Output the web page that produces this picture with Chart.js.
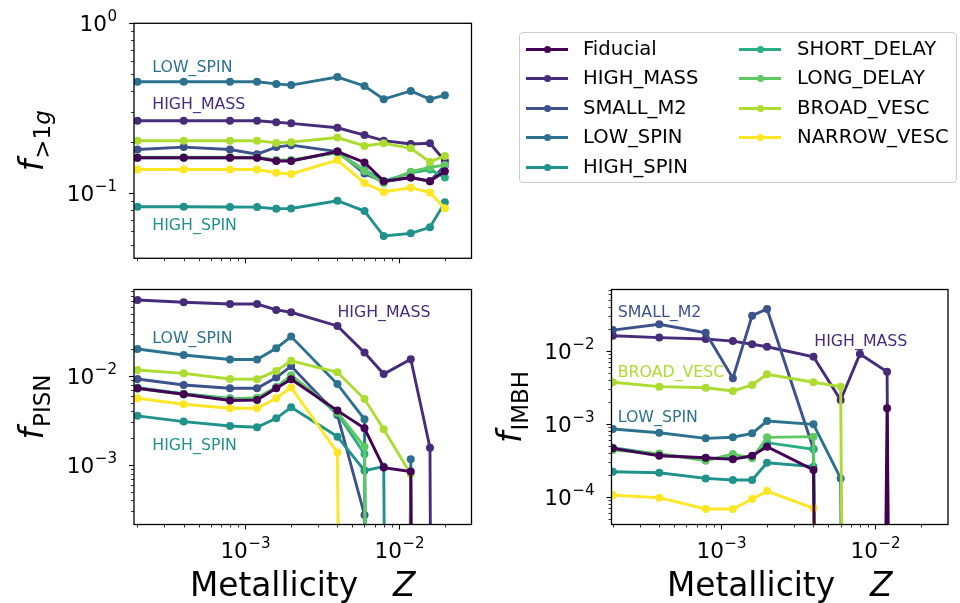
<!DOCTYPE html>
<html>
<head>
<meta charset="utf-8">
<script src="https://cdn.jsdelivr.net/npm/chart.js@4.4.1/dist/chart.umd.min.js"></script>
<style>
  html, body { margin: 0; padding: 0; background: #fff; }
  #fig { position: relative; width: 960px; height: 603px; overflow: hidden; font-family: "DejaVu Sans", sans-serif; }
  #fig canvas { position: absolute; left: 0; top: 0; }
  #legend { position: absolute; left: 519px; top: 32px; width: 438px; height: 151px; box-sizing: border-box;
            border: 1px solid #cccccc; border-radius: 4px; background: rgba(255,255,255,0.8); }
  .lg-line { position: absolute; height: 3px; }
  .lg-dot { position: absolute; width: 7px; height: 7px; border-radius: 50%; }
  .lg-text { position: absolute; font-size: 19.6px; line-height: 20px; color: #000; white-space: nowrap; }
</style>
</head>
<body>
<div id="fig">
  <canvas id="cvHier" width="960" height="603"></canvas>
  <canvas id="cvPisn" width="960" height="603"></canvas>
  <canvas id="cvImbh" width="960" height="603"></canvas>
  <div id="legend"></div>
</div>
<script>
// Metallicity grid of the model runs
const Z = [0.0002, 0.0004, 0.0008, 0.0012, 0.0016, 0.002, 0.004, 0.006, 0.008, 0.012, 0.016, 0.02];

const modelNames = ['Fiducial', 'HIGH_MASS', 'SMALL_M2', 'LOW_SPIN', 'HIGH_SPIN',
                    'SHORT_DELAY', 'LONG_DELAY', 'BROAD_VESC', 'NARROW_VESC'];
const modelColors = ['#440154', '#472c7a', '#3b528b', '#2c728e', '#21918c',
                     '#28ae80', '#5ec962', '#addc30', '#fde725'];

// Fraction of hierarchical (>1g) mergers, one row per model
const fHier = [
  [0.162, 0.162, 0.162, 0.162, 0.155, 0.155, 0.176, 0.152, 0.118, 0.124, 0.118, 0.135],   // Fiducial
  [0.267, 0.267, 0.267, 0.267, 0.262, 0.258, 0.243, 0.220, 0.204, 0.195, 0.197, 0.155],   // HIGH_MASS
  [0.181, 0.187, 0.181, 0.170, 0.187, 0.192, 0.176, 0.131, 0.117, 0.124, 0.118, 0.146],   // SMALL_M2
  [0.453, 0.453, 0.453, 0.453, 0.440, 0.433, 0.483, 0.428, 0.358, 0.400, 0.358, 0.378],   // LOW_SPIN
  [0.0834, 0.0834, 0.0832, 0.0830, 0.0812, 0.0815, 0.0905, 0.0787, 0.0561, 0.0582, 0.0631, 0.0885], // HIGH_SPIN
  [0.162, 0.162, 0.162, 0.162, 0.156, 0.156, 0.174, 0.137, 0.118, 0.132, 0.138, 0.124],   // SHORT_DELAY
  [0.163, 0.163, 0.163, 0.163, 0.157, 0.157, 0.173, 0.135, 0.115, 0.134, 0.142, 0.147],   // LONG_DELAY
  [0.204, 0.204, 0.204, 0.204, 0.198, 0.200, 0.213, 0.190, 0.197, 0.184, 0.153, 0.166],   // BROAD_VESC
  [0.138, 0.138, 0.138, 0.138, 0.132, 0.130, 0.157, 0.115, 0.102, 0.108, 0.101, 0.0816]  // NARROW_VESC
];

// Fraction of pair-instability SN progenitors
const fPisn = [
  [0.00727, 0.00623, 0.00529, 0.00537, 0.00727, 0.00919, 0.00408, 0.00258, 0.000933, 0.000841, 0, 0],
  [0.0715, 0.0673, 0.0644, 0.0643, 0.0552, 0.0520, 0.0365, 0.0183, 0.0105, 0.0154, 0.00156, 0],
  [0.00925, 0.00792, 0.00727, 0.00727, 0.00958, 0.0129, 0.00365, 0.000274, 0, 0, 0, 0],
  [0.0201, 0.0172, 0.0153, 0.0153, 0.0205, 0.0277, 0.0081, 0.00326, 0, 0.00116, 0, 0],
  [0.00356, 0.00307, 0.00274, 0.00265, 0.00334, 0.00445, 0.00208, 0.000863, 0.000957, 0, 0, 0],
  [0.0074, 0.0063, 0.0056, 0.0056, 0.0075, 0.0100, 0.0038, 0.00133, 0, 0, 0, 0],
  [0.0072, 0.0062, 0.0055, 0.0057, 0.0074, 0.0102, 0.0039, 0.0016, 0, 0, 0, 0],
  [0.01167, 0.0107, 0.00925, 0.0092, 0.0114, 0.0148, 0.0110, 0.0055, 0.00252, 0.00079, 0, 0],
  [0.00561, 0.00481, 0.00433, 0.00433, 0.00561, 0.0074, 0.00138, 0, 0, 0, 0, 0]
];

// Fraction of intermediate-mass black holes
const fImbh = [
  [0.00046, 0.000365, 0.000342, 0.000325, 0.000365, 0.000485, 0.000232, 0, 0, 0.00163, 0, 0],
  [0.0162, 0.0153, 0.0146, 0.0137, 0.0124, 0.01146, 0.00835, 0.00212, 0.0091, 0.0052, 0, 0],
  [0.0194, 0.0233, 0.0178, 0.00422, 0.0306, 0.0378, 0.00045, 0, 0, 0, 0, 0],
  [0.000849, 0.000755, 0.000632, 0.000653, 0.00074, 0.00109, 0.000984, 0.000178, 0, 0, 0, 0],
  [0.00022, 0.000213, 0.000178, 0.000169, 0.000169, 0.000292, 0.000258, 0, 0, 0, 0, 0],
  [0.00047, 0.00038, 0.00033, 0.00034, 0.00035, 0.000551, 0.000447, 0, 0, 0, 0, 0],
  [0.000436, 0.00039, 0.000311, 0.000385, 0.000336, 0.000652, 0.000666, 0, 0, 0, 0, 0],
  [0.00372, 0.00324, 0.00313, 0.00283, 0.00341, 0.00478, 0.00372, 0.00324, 0, 0, 0, 0],
  [0.000105, 0.0000967, 0.0000676, 0.0000676, 0.0000927, 0.000119, 0.000069, 0, 0, 0, 0, 0]
];

// Text labels written next to selected curves: [model, Z, value]
const hierNotes = [['LOW_SPIN', 2.5e-4, 0.52], ['HIGH_MASS', 2.5e-4, 0.312], ['HIGH_SPIN', 2.5e-4, 0.0608]];
const pisnNotes = [['LOW_SPIN', 2.5e-4, 0.0237], ['HIGH_SPIN', 2.5e-4, 0.00147], ['HIGH_MASS', 4.0e-3, 0.0463]];
const imbhNotes = [['SMALL_M2', 2.15e-4, 0.029], ['BROAD_VESC', 2.15e-4, 0.00443],
                   ['LOW_SPIN', 2.15e-4, 0.00107], ['HIGH_MASS', 4.05e-3, 0.0118]];

const FONT = '"DejaVu Sans"';
const TICK_FS = 21.6;
const TITLE_FS = 32.8;
const NOTE_FS = 15.8;
// A zero rate has no place on a log axis: send it far below the floor so the curve plunges out of view
const LOG_FLOOR = 1e-40;

function runsWidth(ctx, runs) {
  let w = 0;
  for (const r of runs) { ctx.font = r.font; w += ctx.measureText(r.text).width + (r.gap || 0); }
  return w;
}
function drawRuns(ctx, runs, x, y) {
  for (const r of runs) {
    ctx.font = r.font;
    ctx.fillText(r.text, x, y + (r.dy || 0));
    x += ctx.measureText(r.text).width + (r.gap || 0);
  }
}
function powerRuns(exp) {
  const e = exp < 0 ? '\u2212' + (-exp) : String(exp);
  return [
    { text: '10', font: `${TICK_FS}px ${FONT}`, gap: 0.5 },
    { text: e, font: `${(TICK_FS * 0.7).toFixed(1)}px ${FONT}`, dy: -0.49 * TICK_FS }
  ];
}
function logTicks(min, max) {
  const out = [];
  for (let e = Math.floor(Math.log10(min)); e <= Math.ceil(Math.log10(max)); e++) {
    for (let k = 1; k <= 9; k++) {
      const v = k * Math.pow(10, e);
      if (v >= min * (1 - 1e-9) && v <= max * (1 + 1e-9)) out.push({ v, e, major: k === 1 });
    }
  }
  return out;
}

// Frame, log ticks, tick labels, axis titles and curve labels of one panel
const axesFrame = {
  id: 'axesFrame',
  afterDraw(chart, args, opts) {
    const ctx = chart.ctx, a = chart.chartArea;
    const xs = chart.scales.x, ys = chart.scales.y;
    ctx.save();
    ctx.fillStyle = '#000';
    ctx.strokeStyle = '#000';
    ctx.textBaseline = 'alphabetic';

    // curve labels
    ctx.font = `${NOTE_FS}px ${FONT}`;
    ctx.textAlign = 'left';
    for (const [name, zx, val] of opts.notes) {
      ctx.fillStyle = modelColors[modelNames.indexOf(name)];
      ctx.fillText(name, xs.getPixelForValue(zx), ys.getPixelForValue(val));
    }
    ctx.fillStyle = '#000';

    // x ticks
    for (const t of logTicks(xs.min, xs.max)) {
      const px = Math.round(xs.getPixelForValue(t.v)) + 0.5;
      ctx.lineWidth = t.major ? 1.1 : 0.8;
      ctx.beginPath();
      ctx.moveTo(px, a.bottom);
      ctx.lineTo(px, a.bottom + (t.major ? 5 : 3));
      ctx.stroke();
      if (t.major && opts.xLabels) {
        const runs = powerRuns(t.e);
        const w = runsWidth(ctx, runs);
        drawRuns(ctx, runs, px - w / 2, a.bottom + 33.8);
      }
    }
    // y ticks
    for (const t of logTicks(ys.min, ys.max)) {
      const py = Math.round(ys.getPixelForValue(t.v)) + 0.5;
      ctx.lineWidth = t.major ? 1.1 : 0.8;
      ctx.beginPath();
      ctx.moveTo(a.left, py);
      ctx.lineTo(a.left - (t.major ? 5 : 3), py);
      ctx.stroke();
      if (t.major) {
        const runs = powerRuns(t.e);
        const w = runsWidth(ctx, runs);
        drawRuns(ctx, runs, a.left - 17 - w, py + 0.3645 * TICK_FS);
      }
    }

    // frame
    ctx.lineWidth = 1.3;
    ctx.strokeRect(a.left, a.top, a.right - a.left, a.bottom - a.top);

    // y title (rotated)
    const yr = opts.yTitle;
    ctx.save();
    ctx.translate(a.left - 91, (a.top + a.bottom) / 2);
    ctx.rotate(-Math.PI / 2);
    const yw = runsWidth(ctx, yr);
    drawRuns(ctx, yr, -yw / 2, 0);
    ctx.restore();

    // x title
    if (opts.xTitle) {
      const xr = [
        { text: 'Metallicity', font: `${TITLE_FS}px ${FONT}`, gap: 35 },
        { text: 'Z', font: `italic ${TITLE_FS}px ${FONT}` }
      ];
      const xw = runsWidth(ctx, xr);
      drawRuns(ctx, xr, (a.left + a.right) / 2 - xw / 2, 596);
    }
    ctx.restore();
  }
};

function datasets(rows) {
  return modelNames.map((name, i) => ({
    label: name,
    data: Z.map((z, j) => ({ x: z, y: rows[i][j] > 0 ? rows[i][j] : LOG_FLOOR })),
    borderColor: modelColors[i],
    backgroundColor: modelColors[i],
    pointBackgroundColor: modelColors[i],
    pointBorderColor: modelColors[i],
    pointBorderWidth: 0,
    pointRadius: 4,
    borderWidth: 2.9,
    tension: 0,
    // Fiducial sits on top, the remaining models stack in list order
    order: i === 0 ? 0 : modelNames.length - i
  }));
}

function panel(id, rows, box, xRange, yRange, deco) {
  return new Chart(document.getElementById(id), {
    type: 'line',
    data: { datasets: datasets(rows) },
    options: {
      responsive: false,
      animation: false,
      devicePixelRatio: 1,
      events: [],
      layout: { padding: { left: box[0], top: box[1], right: 960 - box[2], bottom: 603 - box[3] } },
      scales: {
        x: { type: 'logarithmic', min: xRange[0], max: xRange[1], display: false },
        y: { type: 'logarithmic', min: yRange[0], max: yRange[1], display: false }
      },
      plugins: { legend: { display: false }, tooltip: { enabled: false }, axesFrame: deco }
    },
    plugins: [axesFrame]
  });
}

const sub = (t, italic) => ({ text: t, font: `${italic ? 'italic ' : ''}${(TITLE_FS * 0.7).toFixed(1)}px ${FONT}`, dy: 0.22 * TITLE_FS });
const fItalic = { text: 'f', font: `italic ${TITLE_FS}px ${FONT}`, gap: 1 };

panel('cvHier', fHier, [134, 23.3, 471.5, 258.3], [1.9e-4, 2.98e-2], [0.0415, 1.0], {
  notes: hierNotes, xLabels: false, xTitle: false,
  yTitle: [fItalic, sub('>', false), sub('1', false), sub('g', true)]
});
panel('cvPisn', fPisn, [134, 289.5, 471.5, 524.5], [1.9e-4, 2.98e-2], [2.14e-4, 0.0937], {
  notes: pisnNotes, xLabels: true, xTitle: true,
  yTitle: [fItalic, sub('PISN', false)]
});
panel('cvImbh', fImbh, [611.5, 289.5, 948, 524.5], [1.96e-4, 2.98e-2], [4.14e-5, 0.070], {
  notes: imbhNotes, xLabels: true, xTitle: true,
  yTitle: [fItalic, sub('IMBH', false)]
});

// Legend: two columns of line-and-marker handles
(function buildLegend() {
  const box = document.getElementById('legend');
  const ox = 519, oy = 32;
  modelNames.forEach((name, i) => {
    const col = i < 5 ? 0 : 1, row = i < 5 ? i : i - 5;
    const cy = Math.round(49 + row * 29.45) - oy;
    const lx = (col ? 739 : 526) - ox - 1;
    const tx = (col ? 797 : 583) - ox - 1;
    const line = document.createElement('div');
    line.className = 'lg-line';
    line.style.cssText = `left:${lx}px;top:${cy - 2}px;width:42px;background:${modelColors[i]}`;
    const dot = document.createElement('div');
    dot.className = 'lg-dot';
    dot.style.cssText = `left:${lx + 18}px;top:${cy - 4}px;background:${modelColors[i]}`;
    const txt = document.createElement('div');
    txt.className = 'lg-text';
    txt.style.cssText = `left:${tx}px;top:${cy - 11}px`;
    txt.textContent = name;
    box.appendChild(line); box.appendChild(dot); box.appendChild(txt);
  });
})();
</script>
</body>
</html>
